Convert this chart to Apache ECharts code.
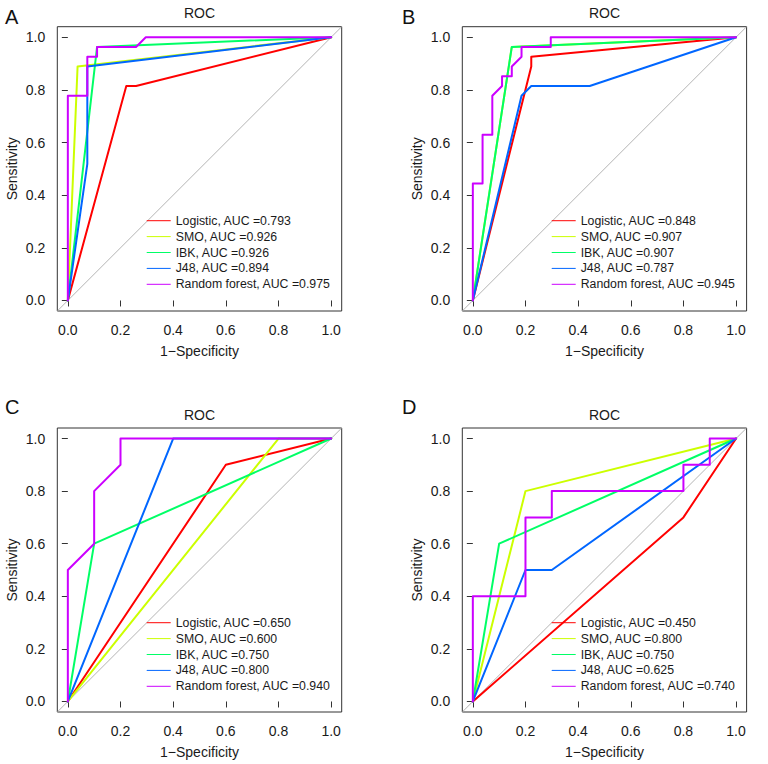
<!DOCTYPE html>
<html>
<head>
<meta charset="utf-8">
<script src="https://cdn.jsdelivr.net/npm/echarts@6/dist/echarts.min.js"></script>
<style>
html,body{margin:0;padding:0;background:#fff;}
#chart{width:768px;height:764px;}
</style>
</head>
<body>
<div id="chart"></div>
<script>
// ---- Data ----
const panelLabels = ['A', 'B', 'C', 'D'];
const modelNames = ['Logistic', 'SMO', 'IBK', 'J48', 'Random forest'];
const modelColors = ['#FF0000', '#CCFF00', '#00FF66', '#0066FF', '#CC00FF'];
const tickValues = [0, 0.2, 0.4, 0.6, 0.8, 1.0];
const diagonalLine = [[-0.04, -0.04], [1.04, 1.04]];

const aucA = [0.793, 0.926, 0.926, 0.894, 0.975];
const aucB = [0.848, 0.907, 0.907, 0.787, 0.945];
const aucC = [0.650, 0.600, 0.750, 0.800, 0.940];
const aucD = [0.450, 0.800, 0.750, 0.625, 0.740];

// points as [1-specificity, sensitivity]
const aLogistic = [[0, 0], [0.222, 0.815], [0.259, 0.815], [1, 1]];
const aSMO = [[0, 0], [0.037, 0.889], [1, 1]];
const aIBK = [[0, 0], [0.111, 0.963], [1, 1]];
const aJ48 = [[0, 0], [0.074, 0.519], [0.074, 0.889], [1, 1]];
const aRF = [[0, 0], [0, 0.778], [0.074, 0.778], [0.074, 0.926], [0.111, 0.926], [0.111, 0.963], [0.259, 0.963], [0.296, 1], [1, 1]];

const bLogistic = [[0, 0], [0.222, 0.889], [0.222, 0.926], [1, 1]];
const bSMO = [[0, 0], [0.148, 0.963], [1, 1]];
const bIBK = [[0, 0], [0.148, 0.963], [1, 1]];
const bJ48 = [[0, 0], [0.185, 0.778], [0.222, 0.815], [0.444, 0.815], [1, 1]];
const bRF = [[0, 0], [0, 0.444], [0.037, 0.444], [0.037, 0.630], [0.074, 0.630], [0.074, 0.778], [0.111, 0.815], [0.111, 0.852], [0.148, 0.852], [0.148, 0.889], [0.185, 0.926], [0.185, 0.963], [0.296, 0.963], [0.296, 1], [1, 1]];

const cLogistic = [[0, 0], [0.6, 0.9], [1, 1]];
const cSMO = [[0, 0], [0.8, 1], [1, 1]];
const cIBK = [[0, 0], [0.1, 0.6], [1, 1]];
const cJ48 = [[0, 0], [0.4, 1], [1, 1]];
const cRF = [[0, 0], [0, 0.5], [0.1, 0.6], [0.1, 0.8], [0.2, 0.9], [0.2, 1], [1, 1]];

const dLogistic = [[0, 0], [0.8, 0.7], [1, 1]];
const dSMO = [[0, 0], [0.2, 0.8], [1, 1]];
const dIBK = [[0, 0], [0.1, 0.6], [1, 1]];
const dJ48 = [[0, 0], [0.2, 0.5], [0.3, 0.5], [1, 1]];
const dRF = [[0, 0], [0, 0.4], [0.2, 0.4], [0.2, 0.7], [0.3, 0.7], [0.3, 0.8], [0.8, 0.8], [0.8, 0.9], [0.9, 0.9], [0.9, 1], [1, 1]];

const panelCurves = [
  [aLogistic, aSMO, aIBK, aJ48, aRF],
  [bLogistic, bSMO, bIBK, bJ48, bRF],
  [cLogistic, cSMO, cIBK, cJ48, cRF],
  [dLogistic, dSMO, dIBK, dJ48, dRF]
];
const panelAUC = [aucA, aucB, aucC, aucD];

// ---- Layout ----
const FONT = '"Liberation Sans", Arial, Helvetica, sans-serif';
const TXT = '#1a1a1a';
const grids = [
  {left: 57.3, top: 26.7, width: 284.4, height: 284.3},
  {left: 462.3, top: 26.7, width: 284.3, height: 284.3},
  {left: 57.3, top: 428, width: 284.4, height: 284},
  {left: 462.3, top: 428, width: 284.3, height: 284}
];
const legendPos = [
  {left: 146.7, top: 214.7},
  {left: 551.7, top: 214.7},
  {left: 146.7, top: 616.7},
  {left: 551.7, top: 616.7}
];
const labelPos = [
  {left: 5, top: 7},
  {left: 402, top: 7},
  {left: 5, top: 397},
  {left: 402, top: 397}
];

const option = {
  animation: false,
  backgroundColor: '#fff',
  grid: grids.map(g => Object.assign({show: true, borderColor: '#333', borderWidth: 1, backgroundColor: 'transparent'}, g)),
  title: [],
  xAxis: [],
  yAxis: [],
  legend: [],
  series: []
};

grids.forEach((g, i) => {
  option.title.push({
    text: 'ROC', left: g.left + g.width / 2, top: g.top - 20.5, textAlign: 'center', padding: 0,
    textStyle: {fontFamily: FONT, fontSize: 14, fontWeight: 'normal', color: TXT}
  });
  option.title.push({
    text: panelLabels[i], left: labelPos[i].left, top: labelPos[i].top, padding: 0,
    textStyle: {fontFamily: FONT, fontSize: 20, fontWeight: 'normal', color: '#111'}
  });
  const axisCommon = {
    type: 'value', gridIndex: i, min: -0.04, max: 1.04,
    axisLine: {show: false},
    splitLine: {show: false},
    axisTick: {show: true, customValues: tickValues, length: 6, lineStyle: {color: '#333', width: 1}},
    axisLabel: {customValues: tickValues, margin: 12, fontFamily: FONT, fontSize: 14, color: TXT,
      formatter: v => v.toFixed(1)},
    nameLocation: 'middle',
    nameTextStyle: {fontFamily: FONT, fontSize: 14, color: TXT}
  };
  option.xAxis.push(Object.assign({}, axisCommon, {name: '1\u2212Specificity', nameGap: 33}));
  option.yAxis.push(Object.assign({}, axisCommon, {name: 'Sensitivity', nameGap: 38.5}));

  option.series.push({
    type: 'line', xAxisIndex: i, yAxisIndex: i, data: diagonalLine, symbol: 'none', silent: true,
    lineStyle: {color: '#B4B4B4', width: 1}
  });
  const names = [];
  panelCurves[i].forEach((curve, k) => {
    const nm = modelNames[k] + ', AUC =' + panelAUC[i][k].toFixed(3);
    names.push(nm);
    option.series.push({
      name: nm, type: 'line', xAxisIndex: i, yAxisIndex: i, data: curve, symbol: 'none', silent: true,
      itemStyle: {color: modelColors[k]},
      lineStyle: {color: modelColors[k], width: 2, join: 'round', cap: 'round'}
    });
  });
  option.legend.push({
    data: names, orient: 'vertical', left: legendPos[i].left, top: legendPos[i].top, padding: 0,
    itemWidth: 24, itemHeight: 14, itemGap: 3.9, selectedMode: false,
    icon: 'path://M0,0H24V1H0Z', symbolKeepAspect: true,
    textStyle: {fontFamily: FONT, fontSize: 12.3, color: TXT}
  });
});

const chart = echarts.init(document.getElementById('chart'), null, {renderer: 'svg'});
chart.setOption(option);
</script>
</body>
</html>
